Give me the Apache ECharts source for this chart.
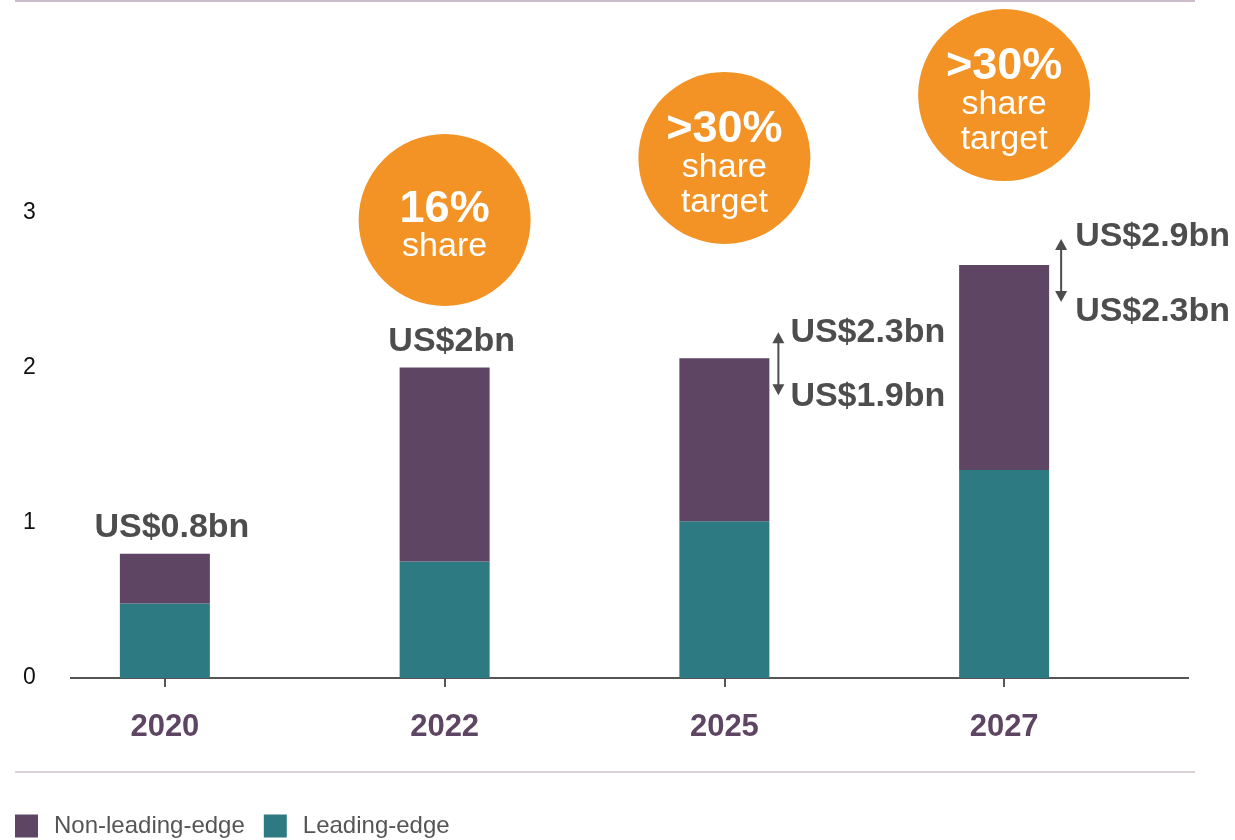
<!DOCTYPE html>
<html>
<head>
<meta charset="utf-8">
<script src="https://cdn.jsdelivr.net/npm/echarts@6/dist/echarts.min.js"></script>
<style>
html,body{margin:0;padding:0;background:#fff;}
#chart{width:1235px;height:840px;}
</style>
</head>
<body>
<div id="chart"></div>
<script>
// data (US$ bn)
var years = ['2020', '2022', '2025', '2027'];
var leadingEdge = [0.48, 0.75, 1.01, 1.34];
var nonLeadingEdge = [0.32, 1.25, 1.05, 1.32];
var totalLabels = ['US$0.8bn', 'US$2bn', '', ''];
var rangeHigh = ['', '', 'US$2.3bn', 'US$2.9bn'];
var rangeLow = ['', '', 'US$1.9bn', 'US$2.3bn'];
var shareTop = ['', '16%', '>30%', '>30%'];
var shareSub = [[], ['share'], ['share', 'target'], ['share', 'target']];
var bubbleY = [null, 2.95, 3.35, 3.755];
var yTicks = [0, 1, 2, 3];

var PURPLE = '#5E4563', TEAL = '#2E7A83', ORANGE = '#F39325', GREY = '#4D4D4D';
var FONT = 'Liberation Sans, Arial, sans-serif';
// label placement for the range annotations (styling, not data)
var rangeLineH = [0, 0, 64, 75];
var rangeShift = [0, 0, 6, 9];
var rangeDx = [0, 0, 21, 26];
var arrowDx = [0, 0, 9, 12];

var chart = echarts.init(document.getElementById('chart'));

// top (non-leading) segment carries the total / range label
var topData = [];
for (var i = 0; i < years.length; i++) {
	var item = {value: nonLeadingEdge[i]};
	if (totalLabels[i]) {
		item.label = {
			show: true, position: 'top', distance: 9, offset: [7, 0],
			formatter: totalLabels[i],
			color: GREY, fontSize: 34, fontWeight: 'bold', fontFamily: FONT
		};
	} else if (rangeHigh[i]) {
		item.label = {
			show: true, position: ['100%', 0], offset: [rangeDx[i], rangeShift[i]],
			align: 'left', verticalAlign: 'middle',
			formatter: '{r|' + rangeHigh[i] + '}\n{r|' + rangeLow[i] + '}',
			rich: {r: {color: GREY, fontSize: 34, fontWeight: 'bold', fontFamily: FONT, lineHeight: rangeLineH[i]}}
		};
	}
	topData.push(item);
}

var bubbles = [];
for (var i = 0; i < years.length; i++) {
	if (bubbleY[i] == null) continue;
	var txt = '{big|' + shareTop[i] + '}';
	for (var k = 0; k < shareSub[i].length; k++) txt += '\n{small|' + shareSub[i][k] + '}';
	bubbles.push({value: [years[i], bubbleY[i]], label: {formatter: txt}});
}

chart.setOption({
	animation: false,
	textStyle: {fontFamily: FONT},
	grid: {left: 25, right: 91, top: 57, bottom: 162, containLabel: false},
	legend: {
		left: 10, top: 809, itemWidth: 23, itemHeight: 23, itemGap: 19,
		icon: 'rect',
		data: ['Non-leading-edge', 'Leading-edge'],
		textStyle: {fontSize: 24, color: '#555', fontFamily: FONT, padding: [0, 0, 0, 11]}
	},
	xAxis: {
		type: 'category', data: years,
		axisLine: {show: false},
		axisTick: {show: true, alignWithLabel: true, length: 9, lineStyle: {color: '#555', width: 2}},
		axisLabel: {color: PURPLE, fontSize: 31, fontWeight: 'bold', margin: 34, fontFamily: FONT}
	},
	yAxis: {
		type: 'value', min: 0, max: 4, interval: 1,
		splitLine: {show: false}, axisLine: {show: false}, axisTick: {show: false},
		axisLabel: {
			align: 'left', margin: 2, fontSize: 23, color: '#111', fontFamily: FONT,
			formatter: function (v) { return yTicks.indexOf(v) >= 0 ? String(v) : ''; }
		}
	},
	series: [
		{
			name: 'Leading-edge', type: 'bar', stack: 'total', barWidth: 90,
			itemStyle: {color: TEAL}, data: leadingEdge
		},
		{
			name: 'Non-leading-edge', type: 'bar', stack: 'total', barWidth: 90,
			itemStyle: {color: PURPLE}, data: topData
		},
		{
			type: 'scatter', symbol: 'circle', symbolSize: 172, clip: false, z: 5,
			itemStyle: {color: ORANGE, opacity: 1},
			label: {
				show: true, position: 'inside', offset: [0, 7],
				rich: {
					big: {color: '#fff', fontSize: 45, fontWeight: 'bold', lineHeight: 40, fontFamily: FONT},
					small: {color: '#fff', fontSize: 34, lineHeight: 35, fontFamily: FONT}
				}
			},
			emphasis: {disabled: true},
			data: bubbles
		}
	]
});

// baseline, frame lines and the range arrows, placed from the axis scale
var base = chart.convertToPixel({gridIndex: 0}, [years[0], 0]);
var g = [
	{type: 'line', shape: {x1: 70, y1: base[1], x2: 1189, y2: base[1]}, style: {stroke: '#555', lineWidth: 2}},
	{type: 'line', shape: {x1: 15, y1: 1, x2: 1195, y2: 1}, style: {stroke: '#CBBBCB', lineWidth: 2}},
	{type: 'line', shape: {x1: 15, y1: 772, x2: 1195, y2: 772}, style: {stroke: '#D9D2D9', lineWidth: 2}}
];
for (var i = 0; i < years.length; i++) {
	if (!rangeHigh[i]) continue;
	var p = chart.convertToPixel({gridIndex: 0}, [years[i], leadingEdge[i] + nonLeadingEdge[i]]);
	var x = p[0] + 45 + arrowDx[i];
	var y1 = p[1] - 26, y2 = p[1] + 37;
	g.push({type: 'line', shape: {x1: x, y1: y1 + 8, x2: x, y2: y2 - 8}, style: {stroke: GREY, lineWidth: 2}});
	g.push({type: 'polygon', shape: {points: [[x, y1], [x - 6, y1 + 11], [x + 6, y1 + 11]]}, style: {fill: GREY}});
	g.push({type: 'polygon', shape: {points: [[x, y2], [x - 6, y2 - 11], [x + 6, y2 - 11]]}, style: {fill: GREY}});
}
chart.setOption({graphic: g});
</script>
</body>
</html>
